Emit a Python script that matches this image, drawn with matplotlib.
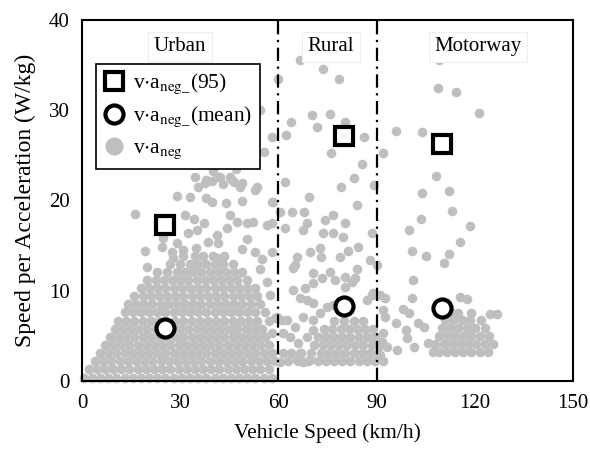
import matplotlib
matplotlib.use("Agg")
import matplotlib.pyplot as plt
from matplotlib.lines import Line2D

plt.rcParams['font.family'] = ['Liberation Serif', 'DejaVu Serif']
plt.rcParams['mathtext.fontset'] = 'stix'

GREY = '#bfbfbf'

# dense urban blob, typed row by row: (v*a_neg level, speeds in that row)
urban_rows = [
  (0.4, [0.5, 3, 5.5, 8, 10.5, 13, 15.5, 18, 20.5, 23, 25.5, 28, 30.5, 33, 35.5,
         38, 40.5, 43, 45.5, 48, 50.5, 53, 55.5, 58]),
  (1.3, [2, 4.5, 7, 9.5, 12, 14.5, 17, 19.5, 22, 24.5, 27, 29.5, 32, 34.5, 37,
         39.5, 42, 44.5, 47, 49.5, 52, 54.5, 57]),
  (2.2, [4, 6.5, 9, 11.5, 14, 16.5, 19, 21.5, 24, 26.5, 29, 31.5, 34, 36.5, 39,
         41.5, 44, 46.5, 49, 51.5, 54, 56.5, 59]),
  (3.1, [5.5, 8, 10.5, 13, 15.5, 18, 20.5, 23, 25.5, 28, 30.5, 33, 35.5, 38,
         40.5, 43, 45.5, 48, 50.5, 53, 55.5, 58]),
  (4.0, [7, 9.5, 12, 14.5, 17, 19.5, 22, 24.5, 27, 29.5, 32, 34.5, 37, 39.5, 42,
         44.5, 47, 49.5, 52, 54.5, 57]),
  (4.9, [8.5, 11, 13.5, 16, 18.5, 21, 23.5, 26, 28.5, 31, 33.5, 36, 38.5, 41,
         43.5, 46, 48.5, 51, 53.5, 56]),
  (5.8, [10, 12.5, 15, 17.5, 20, 22.5, 27.5, 30, 32.5, 35, 37.5, 40, 42.5, 45,
         47.5, 50, 52.5, 55]),
  (6.7, [11, 13.5, 16, 18.5, 21, 23.5, 28.5, 31, 33.5, 36, 38.5, 41, 43.5, 46,
         48.5, 51, 53.5, 57]),
  (7.6, [13, 15.5, 18, 20.5, 23, 25.5, 28, 30.5, 33, 35.5, 38, 40.5, 43, 45.5,
         48, 50.5, 53, 56]),
  (8.5, [14, 16.5, 19, 21.5, 24, 26.5, 29, 31.5, 34, 36.5, 39, 41.5, 44, 46.5,
         49, 51.5, 54.5]),
  (9.4, [16, 18.5, 21, 23.5, 26, 28.5, 31, 33.5, 36, 38.5, 41, 43.5, 46, 48.5,
         51, 53.5]),
  (10.3, [18, 20.5, 23, 25.5, 28, 30.5, 33, 35.5, 38, 40.5, 43, 45.5, 48, 50.5,
          53]),
  (11.2, [20, 22.5, 25, 27.5, 30, 32.5, 35, 37.5, 40, 42.5, 45, 47.5, 50.5]),
  (12.1, [23, 26, 29, 31.5, 34, 36.5, 39, 41.5, 44, 46.5, 49]),
  (13.0, [27, 30, 33, 35.5, 38, 40.5, 43, 46]),
  (13.9, [31, 34.5, 37, 40, 43.5]),
]

urban_spread_speed = [16.2, 29, 33, 35.4, 37.6, 38, 39.7, 44, 48.9, 43, 46.4, 48.3,
                      52.9, 58, 31.5, 34.2, 37.3, 45.2, 47.4, 44.3, 50.4, 52.2,
                      56.5, 32.4, 35.1, 41.2, 38.5, 41.5, 50.4, 24.7, 24.4, 29,
                      30.9, 27.5, 34.8, 19.2, 48.9, 52.9, 27.8, 41.2, 54.4, 19.9,
                      35.1, 34.5, 39.7, 42.2, 45.8, 38, 41.5, 45.2, 48.9, 53.5, 52,
                      55.6, 54.4, 58, 47, 40, 58, 58.4, 58, 59, 58, 61, 56.5, 57.5,
                      55, 60]
urban_spread_va = [18.5, 20.5, 20.4, 21.5, 21.9, 20.3, 19.8, 19.7, 19.9, 21.8, 22,
                   21.5, 21.2, 19.8, 18.4, 18, 17.5, 18.4, 17.6, 17, 17.5, 17.6,
                   17.3, 16.4, 16.7, 16.2, 15.4, 15.3, 15.7, 15.8, 14.8, 15.3, 14.5,
                   14.3, 14.7, 14.4, 14.6, 14.3, 13.6, 13.6, 12.4, 12.6, 12.9, 22.6,
                   22.2, 22.6, 22.3, 22.3, 22.6, 22.6, 21.9, 21.5, 24.5, 25.4, 30,
                   27, 23.5, 23.3, 17.5, 19.8, 14.3, 7, 5.3, 6.8, 11, 9.5, 13.5,
                   33.4]

# rural cluster rows
rural_rows = [
  (2.2, [63, 66, 69, 72, 74.5, 77, 79.5, 82, 84.5, 87, 89.5, 92]),
  (3.1, [64, 67, 70, 73, 75.5, 78, 80.5, 83, 85.5, 88, 90.5]),
  (4.0, [71, 73.5, 76, 78.5, 81, 83.5, 86, 88.5, 91]),
  (4.9, [72, 74.5, 77, 79.5, 82, 84.5, 87, 89.5]),
  (5.8, [74, 76.5, 79, 81.5, 84, 86.5, 89]),
  (6.7, [77, 80, 83, 86]),
]

rural_spread_speed = [66.6, 73.6, 78.5, 70.3, 75.8, 63.9, 71.8, 80.4, 62.3, 86.2,
                      76.1, 83.1, 89.2, 60.5, 64.2, 67.8, 76.7, 84, 74.2, 80.4, 62,
                      67.5, 68.7, 73.6, 76.7, 79.7, 88.6, 84.3, 81.3, 78.8, 69.7,
                      72.7, 73, 65.7, 64.5, 65, 88, 90, 70.6, 73.3, 75.8, 77.3,
                      80.4, 83.4, 84, 64.5, 68.1, 70.6, 80.4, 82.5, 89, 91, 92.6,
                      66.6, 68.7, 70.6, 74.9, 76.7, 87, 88.6, 59.6, 62.6, 65.1,
                      67.5, 70.6, 72.7, 92, 92.6, 61.4, 63.5, 66, 68.7, 70.6, 66.6,
                      69.7, 65.7, 67.5, 61.4, 60.5, 92, 91.7, 93.2, 91, 69.4, 85.5,
                      62, 79]
rural_spread_va = [35.5, 34.6, 33.5, 29.5, 29.6, 28.7, 28.1, 28.7, 27.3, 27, 25.2,
                   22.5, 21.7, 18.7, 18.7, 18.7, 18.4, 19.5, 17.8, 17.5, 16.9,
                   16.7, 17.5, 16.4, 16.4, 16, 16.4, 14.9, 14.4, 13.7, 14.3, 14.7,
                   13.7, 13.7, 12.5, 12.9, 13.4, 12.9, 12, 11.4, 12.1, 11.2, 11.5,
                   11.4, 12.4, 10.1, 10.3, 10.9, 10.4, 11, 9.8, 9.5, 9.2, 9.2, 9,
                   8.6, 8.2, 8.4, 9, 9.5, 7.1, 6.8, 6, 7.1, 6.8, 7.5, 7.9, 7.1,
                   5.3, 4.9, 4.2, 4.9, 5.7, 3.1, 2.3, 2.3, 2.1, 3.1, 2.1, 5.3, 4.3,
                   3.8, 2.9, 20.4, 24, 22, 21.5]

# motorway cluster rows
motorway_rows = [
  (3.2, [109, 111.5, 114, 116.5, 119, 121.5, 124]),
  (4.1, [108, 110.5, 113, 115.5, 118, 120.5, 123, 125.5]),
  (5.0, [109, 111.5, 114, 116.5, 119, 121.5, 124.5]),
  (5.9, [110, 112.5, 115, 117.5, 120, 123]),
  (6.8, [111, 113.5, 116, 118.5, 122]),
  (7.5, [113, 115, 119]),
]

motorway_spread_speed = [92, 96, 103.9, 108.8, 114.3, 121.3, 109, 108.2, 103.9,
                         112.1, 113, 118.5, 103.6, 99.9, 115.5, 100.8, 105.1,
                         112.1, 110.6, 101.1, 100.8, 115.5, 117.6, 124.7, 126.8,
                         98, 100, 102.7, 104.5, 96, 99, 99.3, 101.4, 96.2, 105.7,
                         107.2]
motorway_spread_va = [25.2, 27.7, 27.6, 32.4, 32, 29.7, 35.6, 22.7, 20.8, 21, 18.8,
                      17.2, 17.9, 16.7, 15.4, 14.4, 13.9, 14.1, 13.1, 11.2, 9.2,
                      9.3, 9.1, 7.4, 7.4, 8, 7.5, 6.4, 6, 6.4, 5.7, 4.8, 3.8, 3.4,
                      4.2, 3.2]

zone_speed = [25.5, 80, 110]
va_p95 = [17.3, 27.1, 26.3]
va_mean = [5.9, 8.3, 8.1]

zone_names = ['Urban', 'Rural', 'Motorway']
zone_label_x = [30, 76, 121]
zone_bounds = [60, 90]


def flatten(rows):
  xs, ys = [], []
  for y, row in rows:
    xs += row
    ys += [y] * len(row)
  return xs, ys


speed, va = [], []
for rows, sx, sy in [(urban_rows, urban_spread_speed, urban_spread_va),
                     (rural_rows, rural_spread_speed, rural_spread_va),
                     (motorway_rows, motorway_spread_speed, motorway_spread_va)]:
  xs, ys = flatten(rows)
  speed += xs + sx
  va += ys + sy

fig = plt.figure(figsize=(5.9, 4.5), dpi=100)
ax = fig.add_axes([0.139, 0.153, 0.832, 0.803])

ax.scatter(speed, va, s=48, color=GREY, linewidths=0, zorder=2, clip_on=False)

for xb in zone_bounds:
  ax.axvline(xb, color='black', lw=1.6, linestyle=(0, (6, 2.5, 1, 2.5)), zorder=3)

ax.plot(zone_speed, va_p95, linestyle='none', marker='s', ms=13, mew=3,
        mfc='white', mec='black', zorder=4)
ax.plot(zone_speed, va_mean, linestyle='none', marker='o', ms=13, mew=3,
        mfc='white', mec='black', zorder=4)

for name, xl in zip(zone_names, zone_label_x):
  ax.text(xl, 37.0, name, ha='center', va='center', fontsize=15, zorder=5,
          bbox=dict(facecolor='white', edgecolor='#eeeeee', pad=4, lw=0.8))

ax.set_xlim(0, 150)
ax.set_ylim(0, 40)
ax.set_xticks([0, 30, 60, 90, 120, 150])
ax.set_yticks([0, 10, 20, 30, 40])
ax.tick_params(length=0, labelsize=15, pad=9)
for sp in ax.spines.values():
  sp.set_linewidth(1.5)
ax.set_xlabel('Vehicle Speed (km/h)', fontsize=15.5, labelpad=8)
ax.set_ylabel('Speed per Acceleration (W/kg)', fontsize=17, labelpad=9)

handles = [
  Line2D([], [], linestyle='none', marker='s', ms=13, mew=3, mfc='white',
         mec='black'),
  Line2D([], [], linestyle='none', marker='o', ms=13, mew=3, mfc='white',
         mec='black'),
  Line2D([], [], linestyle='none', marker='o', ms=12, mfc=GREY, mec=GREY),
]
labels = [r'v$\cdot$a$_{\rm neg\_}$(95)', r'v$\cdot$a$_{\rm neg\_}$(mean)',
          r'v$\cdot$a$_{\rm neg}$']
leg = ax.legend(handles, labels, loc='upper left', bbox_to_anchor=(0.028, 0.877),
                borderaxespad=0, fontsize=15.5, fancybox=False, framealpha=1,
                edgecolor='black', handletextpad=0.4, labelspacing=0.4,
                borderpad=0.35, handlelength=1.0)
leg.get_frame().set_linewidth(1.2)
leg.set_zorder(6)

fig.savefig('out.png', dpi=100)
